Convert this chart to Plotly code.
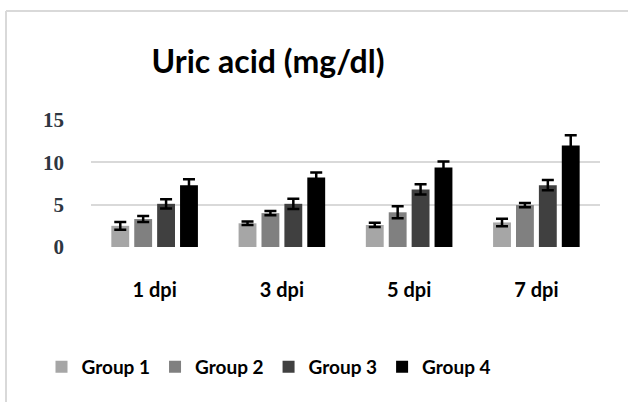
import plotly.graph_objects as go

categories = ["1 dpi", "3 dpi", "5 dpi", "7 dpi"]
groups = ["Group 1", "Group 2", "Group 3", "Group 4"]
values = {
    "Group 1": [2.5, 2.8, 2.6, 2.9],
    "Group 2": [3.3, 4.0, 4.1, 4.95],
    "Group 3": [5.1, 5.1, 6.8, 7.3],
    "Group 4": [7.3, 8.2, 9.4, 12.0],
}
errors = {
    "Group 1": [0.45, 0.2, 0.25, 0.45],
    "Group 2": [0.35, 0.25, 0.7, 0.25],
    "Group 3": [0.55, 0.6, 0.6, 0.6],
    "Group 4": [0.7, 0.6, 0.7, 1.2],
}
colors = ["#A6A6A6", "#808080", "#404040", "#000000"]
yticks = [0, 5, 10, 15]

fig = go.Figure()
for g, c in zip(groups, colors):
    fig.add_trace(go.Bar(
        name=g, x=categories, y=values[g], marker_color=c, marker_line_width=0,
        error_y=dict(type="data", array=errors[g], color="#000000", thickness=2.5, width=6),
    ))

W, H = 628, 402
L, R, T, B = 91, 28, 120, 155
PW, PH = W - L - R, H - T - B
fig.update_layout(
    width=W, height=H,
    margin=dict(l=L, r=R, t=T, b=B, autoexpand=False),
    paper_bgcolor="white", plot_bgcolor="white",
    barmode="group", bargap=0.28, bargroupgap=0.22,
    title=dict(text="<b>Uric acid (mg/dl)</b>", x=(268 - L) / PW, xref="paper", xanchor="center",
               y=1 - 62 / H, yref="container", yanchor="middle",
               font=dict(family="Lato", size=32, color="#000000")),
    showlegend=True,
    legend=dict(orientation="h", x=(269 - L) / PW, xanchor="center", y=(H - B - 367) / PH, yanchor="middle",
                font=dict(family="Lato", size=19, color="#000000", weight="bold"),
                itemwidth=30, traceorder="normal"),
    font=dict(family="Lato"),
    shapes=[
        dict(type="line", xref="paper", yref="paper", x0=(6 - L) / PW, x1=2, y0=(H - B - 11) / PH, y1=(H - B - 11) / PH,
             line=dict(color="#D9D9D9", width=2)),
        dict(type="line", xref="paper", yref="paper", x0=(6 - L) / PW, x1=(6 - L) / PW, y0=(H - B - 11) / PH, y1=-2,
             line=dict(color="#D9D9D9", width=2)),
    ],
)
fig.update_xaxes(showline=False, ticks="", ticklabelstandoff=29,
                 tickfont=dict(family="Lato", size=20, color="#000000", weight="bold"))
fig.update_yaxes(range=[0, 15], tickvals=yticks, showgrid=True, gridcolor="#D9D9D9", gridwidth=1.5,
                 zeroline=False, ticklabelstandoff=26,
                 tickfont=dict(family="Liberation Serif", size=21, color="#2E3641", weight="bold"))

fig.write_html("out.html", config={"displayModeBar": False},
               post_script="document.body.style.margin='0';")
